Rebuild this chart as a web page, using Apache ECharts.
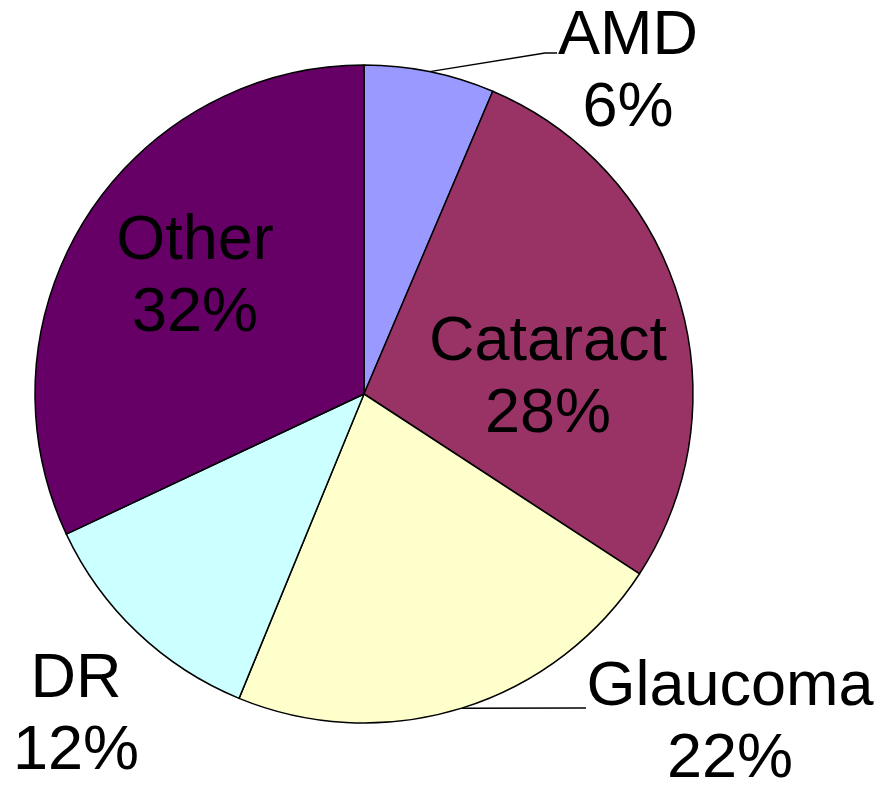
<!DOCTYPE html>
<html><head><meta charset="utf-8">
<script src="https://cdn.jsdelivr.net/npm/echarts@6/dist/echarts.min.js"></script>
<style>html,body{margin:0;padding:0;background:#fff}#c{width:881px;height:785px}</style>
</head><body><div id="c"></div>
<script>
const categories = ['AMD', 'Cataract', 'Glaucoma', 'DR', 'Other'];
const values = [6.4, 27.8, 22.0, 11.8, 32.0];
const colors = ['#9999FF', '#993366', '#FFFFCC', '#CCFFFF', '#660066'];
const labelInside = [false, true, false, false, true];
const labelCenters = [[628, 73], [548, 379], [730, 724], [76, 716], [195, 278]];
const lineEnds = [[[545, 53], [557, 53]], null, [[583, 708], [586, 708]], null, null];

const chart = echarts.init(document.getElementById('c'));
chart.setOption({
  animation: false,
  series: [{
    type: 'pie',
    center: [364, 394],
    radius: [0, 329],
    startAngle: 90,
    clockwise: true,
    percentPrecision: 0,
    avoidLabelOverlap: false,
    itemStyle: { borderColor: '#000', borderWidth: 1.5 },
    label: {
      formatter: '{b}\n{d}%',
      fontFamily: 'Liberation Sans, Arial, sans-serif',
      fontSize: 63,
      lineHeight: 72,
      color: '#000'
    },
    labelLine: { show: true, lineStyle: { color: '#000', width: 1.5 } },
    labelLayout: function (p) {
      const i = p.dataIndex;
      const r = { x: labelCenters[i][0], y: labelCenters[i][1], align: 'center', verticalAlign: 'middle' };
      if (lineEnds[i] && p.labelLinePoints) {
        r.labelLinePoints = [p.labelLinePoints[0], lineEnds[i][0], lineEnds[i][1]];
      }
      return r;
    },
    data: categories.map((n, i) => ({
      name: n,
      value: values[i],
      itemStyle: { color: colors[i] },
      label: { position: labelInside[i] ? 'inside' : 'outside' },
      labelLine: { show: !!lineEnds[i] }
    }))
  }]
});
</script></body></html>
